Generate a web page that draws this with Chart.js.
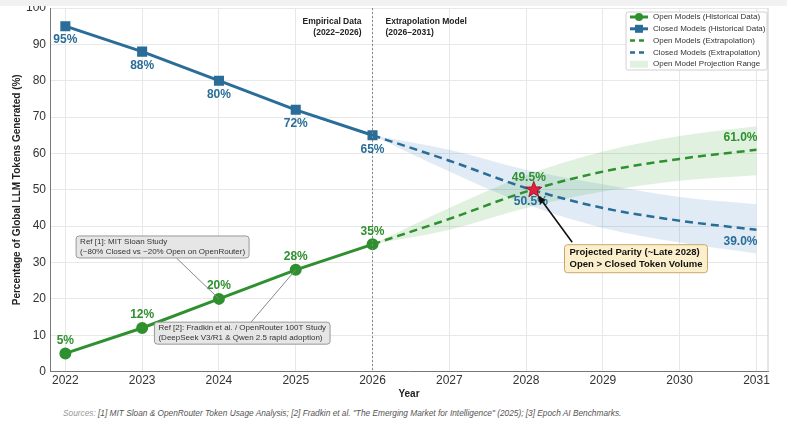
<!DOCTYPE html>
<html>
<head>
<meta charset="utf-8">
<script src="https://cdn.jsdelivr.net/npm/chart.js@4.4.1/dist/chart.umd.min.js"></script>
<style>
  html, body { margin: 0; padding: 0; background: #fff; }
  body { width: 787px; height: 430px; position: relative; overflow: hidden; font-family: "Liberation Sans", Arial, sans-serif; }
  #wrap { position: absolute; left: 0; top: -8px; width: 787px; height: 412px; }
  #topband { position: absolute; left: 0; top: 0; width: 787px; height: 6px; background: #f2f2f2; }
  #sources { position: absolute; left: 63px; top: 408px; font-size: 8.3px; font-style: italic; color: #555; white-space: nowrap; }
  #sources span { color: #999; }
</style>
</head>
<body>
<div id="wrap"><canvas id="chart"></canvas></div>
<div id="topband"></div>
<div id="sources"><span>Sources:</span> [1] MIT Sloan &amp; OpenRouter Token Usage Analysis; [2] Fradkin et al. "The Emerging Market for Intelligence" (2025); [3] Epoch AI Benchmarks.</div>
<script>
const years = [2022, 2023, 2024, 2025, 2026, 2027, 2028, 2029, 2030, 2031];
const histYears = [2022, 2023, 2024, 2025, 2026];
const openHist = [5, 12, 20, 28, 35];
const closedHist = [95, 88, 80, 72, 65];
const extYears = [2026, 2027, 2028, 2029, 2030, 2031];
const openExt = [35, 42, 49.5, 55, 58.5, 61];
const closedExt = [65, 58, 50.5, 45, 41.5, 39];
const openUpper = [35, 45, 54, 60.5, 64.8, 67.5];
const openLower = [35, 39, 45, 49.5, 52.5, 54];
const closedUpper = [65, 61, 55.5, 51.5, 48, 46];
const closedLower = [65, 55, 46, 39.5, 35.5, 32.5];
const parity = { x: 2028.1, y: 50 };
const yTicks = [0, 10, 20, 30, 40, 50, 60, 70, 80, 90, 100];

const GREEN = '#2e902e';
const BLUE = '#2a6d98';
const FONT = '"Liberation Sans", Arial, sans-serif';

function pts(xs, ys) {
    return xs.map((x, i) => ({ x: x, y: ys[i] }));
}

const datasets = [
    {
        label: 'Open Model Projection Range',
        data: pts(extYears, openUpper),
        borderWidth: 0, pointRadius: 0,
        backgroundColor: 'rgba(60,170,60,0.16)',
        fill: '+1', cubicInterpolationMode: 'monotone', order: 5
    },
    {
        label: '_openLower',
        data: pts(extYears, openLower),
        borderWidth: 0, pointRadius: 0,
        backgroundColor: 'rgba(60,170,60,0.16)',
        fill: false, cubicInterpolationMode: 'monotone', order: 5
    },
    {
        label: '_closedUpper',
        data: pts(extYears, closedUpper),
        borderWidth: 0, pointRadius: 0,
        backgroundColor: 'rgba(70,130,190,0.16)',
        fill: '+1', cubicInterpolationMode: 'monotone', order: 5
    },
    {
        label: '_closedLower',
        data: pts(extYears, closedLower),
        borderWidth: 0, pointRadius: 0,
        backgroundColor: 'rgba(70,130,190,0.16)',
        fill: false, cubicInterpolationMode: 'monotone', order: 5
    },
    {
        label: 'Open Models (Extrapolation)',
        data: pts(extYears, openExt),
        borderColor: GREEN, borderWidth: 2.5, borderDash: [8, 5],
        pointRadius: 0, fill: false, cubicInterpolationMode: 'monotone', order: 3
    },
    {
        label: 'Closed Models (Extrapolation)',
        data: pts(extYears, closedExt),
        borderColor: BLUE, borderWidth: 2.5, borderDash: [8, 5],
        pointRadius: 0, fill: false, cubicInterpolationMode: 'monotone', order: 3
    },
    {
        label: 'Open Models (Historical Data)',
        data: pts(histYears, openHist),
        borderColor: GREEN, backgroundColor: GREEN, borderWidth: 3,
        pointStyle: 'circle', pointRadius: 4.5, fill: false, order: 1
    },
    {
        label: 'Closed Models (Historical Data)',
        data: pts(histYears, closedHist),
        borderColor: BLUE, backgroundColor: BLUE, borderWidth: 3,
        pointStyle: 'rect', pointRadius: 5, fill: false, order: 1
    }
];

// text, boxes, star, divider line
const overlay = {
    id: 'overlay',
    afterDatasetsDraw(chart) {
        const ctx = chart.ctx;
        const xs = chart.scales.x, ys = chart.scales.y;
        const area = chart.chartArea;
        const px = v => xs.getPixelForValue(v);
        const py = v => ys.getPixelForValue(v);
        ctx.save();

        // divider at 2026
        ctx.strokeStyle = '#888';
        ctx.lineWidth = 1;
        ctx.setLineDash([2, 2]);
        ctx.beginPath();
        ctx.moveTo(px(2026), area.top);
        ctx.lineTo(px(2026), area.bottom);
        ctx.stroke();
        ctx.setLineDash([]);

        ctx.fillStyle = '#222';
        ctx.font = 'bold 8.5px ' + FONT;
        ctx.textBaseline = 'middle';
        ctx.textAlign = 'right';
        ctx.fillText('Empirical Data', px(2026) - 11, py(96.2));
        ctx.fillText('(2022\u20132026)', px(2026) - 11, py(93.1));
        ctx.textAlign = 'left';
        ctx.fillText('Extrapolation Model', px(2026) + 13, py(96.2));
        ctx.fillText('(2026\u20132031)', px(2026) + 13, py(93.1));

        // value labels
        ctx.font = 'bold 12px ' + FONT;
        ctx.textAlign = 'center';
        ctx.fillStyle = GREEN;
        histYears.forEach((x, i) => ctx.fillText(openHist[i] + '%', px(x), py(openHist[i]) - 13));
        ctx.fillStyle = BLUE;
        histYears.forEach((x, i) => ctx.fillText(closedHist[i] + '%', px(x), py(closedHist[i]) + 14));
        const last = extYears.length - 1;
        ctx.fillStyle = GREEN;
        ctx.fillText(openExt[last].toFixed(1) + '%', px(extYears[last]) - 16, py(openExt[last]) - 12);
        ctx.fillText(openExt[2].toFixed(1) + '%', px(parity.x) - 5, py(parity.y) - 12);
        ctx.fillStyle = BLUE;
        ctx.fillText(closedExt[last].toFixed(1) + '%', px(extYears[last]) - 16, py(closedExt[last]) + 12);
        ctx.fillText(closedExt[2].toFixed(1) + '%', px(parity.x) - 3, py(parity.y) + 12);

        // reference boxes
        function refBox(x, y, lines, target, from) {
            const bx = px(x), by = py(y);
            ctx.font = '8px ' + FONT;
            const w = Math.max(...lines.map(l => ctx.measureText(l).width)) + 8;
            const h = lines.length * 10 + 2;
            ctx.strokeStyle = '#888';
            ctx.lineWidth = 1;
            ctx.beginPath();
            ctx.moveTo(bx + from[0] * w, by + from[1] * h);
            ctx.lineTo(px(target[0]), py(target[1]));
            ctx.stroke();
            ctx.fillStyle = '#e6e6e6';
            ctx.strokeStyle = '#999';
            ctx.beginPath();
            ctx.roundRect(bx, by, w, h, 3);
            ctx.fill();
            ctx.stroke();
            ctx.fillStyle = '#333';
            ctx.textAlign = 'left';
            lines.forEach((l, i) => ctx.fillText(l, bx + 4, by + 6 + i * 10));
        }
        refBox(2022.14, 37.3, ['Ref [1]: MIT Sloan Study', '(~80% Closed vs ~20% Open on OpenRouter)'], [2024, 20], [0.58, 1]);
        refBox(2023.16, 13.6, ['Ref [2]: Fradkin et al. / OpenRouter 100T Study', '(DeepSeek V3/R1 & Qwen 2.5 rapid adoption)'], [2025, 28], [0.55, 0]);

        // parity arrow
        const sx = px(parity.x), sy = py(parity.y);
        const ax = px(2028.6), ay = py(35.6);
        ctx.strokeStyle = '#111';
        ctx.fillStyle = '#111';
        ctx.lineWidth = 1.6;
        const ang = Math.atan2(sy - ay, sx - ax);
        const tipX = sx - Math.cos(ang) * 7, tipY = sy - Math.sin(ang) * 7;
        ctx.beginPath();
        ctx.moveTo(ax, ay);
        ctx.lineTo(tipX - Math.cos(ang) * 6, tipY - Math.sin(ang) * 6);
        ctx.stroke();
        ctx.beginPath();
        ctx.moveTo(tipX, tipY);
        ctx.lineTo(tipX - Math.cos(ang - 0.4) * 9, tipY - Math.sin(ang - 0.4) * 9);
        ctx.lineTo(tipX - Math.cos(ang + 0.4) * 9, tipY - Math.sin(ang + 0.4) * 9);
        ctx.closePath();
        ctx.fill();

        // parity box
        const pbx = px(2028.5), pby = py(34.9);
        ctx.font = 'bold 9.5px ' + FONT;
        const pl = ['Projected Parity (~Late 2028)', 'Open > Closed Token Volume'];
        const pw = Math.max(...pl.map(l => ctx.measureText(l).width)) + 10;
        ctx.fillStyle = '#fcf0cc';
        ctx.strokeStyle = '#c9a66b';
        ctx.lineWidth = 1;
        ctx.beginPath();
        ctx.roundRect(pbx, pby, pw, 28, 3);
        ctx.fill();
        ctx.stroke();
        ctx.fillStyle = '#111';
        ctx.textAlign = 'left';
        pl.forEach((l, i) => ctx.fillText(l, pbx + 5, pby + 8 + i * 12));

        // star
        ctx.beginPath();
        for (let i = 0; i < 10; i++) {
            const r = i % 2 === 0 ? 8.5 : 3.6;
            const a = -Math.PI / 2 + i * Math.PI / 5;
            const x = sx + Math.cos(a) * r, y = sy + Math.sin(a) * r;
            if (i === 0) ctx.moveTo(x, y); else ctx.lineTo(x, y);
        }
        ctx.closePath();
        ctx.fillStyle = '#e3203c';
        ctx.fill();
        ctx.strokeStyle = '#8a0f1e';
        ctx.lineWidth = 0.8;
        ctx.stroke();

        // legend
        const names = ['Open Models (Historical Data)', 'Closed Models (Historical Data)',
            'Open Models (Extrapolation)', 'Closed Models (Extrapolation)', 'Open Model Projection Range'];
        const lx = area.right - 142, ly = area.top + 4;
        ctx.fillStyle = 'rgba(255,255,255,0.92)';
        ctx.strokeStyle = '#d0d0d0';
        ctx.lineWidth = 1;
        ctx.beginPath();
        ctx.roundRect(lx, ly, 141, 58, 2);
        ctx.fill();
        ctx.stroke();
        ctx.font = '8px ' + FONT;
        names.forEach((n, i) => {
            const ds = chart.data.datasets.find(d => d.label === n);
            const yy = ly + 5 + i * 11.8;
            const x0 = lx + 4, x1 = lx + 22;
            if (ds.fill) {
                ctx.fillStyle = ds.backgroundColor;
                ctx.fillRect(x0, yy - 3.5, x1 - x0, 7);
            } else {
                ctx.strokeStyle = ds.borderColor;
                ctx.lineWidth = ds.borderWidth;
                ctx.setLineDash(ds.borderDash ? [5, 4] : []);
                ctx.beginPath();
                ctx.moveTo(x0, yy);
                ctx.lineTo(x1, yy);
                ctx.stroke();
                ctx.setLineDash([]);
                ctx.fillStyle = ds.borderColor;
                if (ds.pointStyle === 'circle') {
                    ctx.beginPath();
                    ctx.arc((x0 + x1) / 2, yy, 4, 0, Math.PI * 2);
                    ctx.fill();
                } else if (ds.pointStyle === 'rect') {
                    ctx.fillRect((x0 + x1) / 2 - 4, yy - 4, 8, 8);
                }
            }
            ctx.fillStyle = '#333';
            ctx.textAlign = 'left';
            ctx.fillText(n, lx + 27, yy);
        });

        // right frame
        ctx.strokeStyle = '#ccc';
        ctx.lineWidth = 1;
        ctx.beginPath();
        ctx.moveTo(area.right, area.top);
        ctx.lineTo(area.right, area.bottom);
        ctx.stroke();

        ctx.restore();
    }
};

new Chart(document.getElementById('chart'), {
    type: 'line',
    data: { datasets: datasets },
    plugins: [overlay],
    options: {
        animation: false,
        responsive: true,
        maintainAspectRatio: false,
        events: [],
        layout: { padding: { top: 16, left: 9, right: 19, bottom: 4 } },
        plugins: {
            legend: { display: false },
            tooltip: { enabled: false }
        },
        scales: {
            x: {
                type: 'linear',
                min: 2021.8,
                max: 2031.15,
                afterBuildTicks: scale => { scale.ticks = years.map(v => ({ value: v })); },
                ticks: {
                    color: '#333',
                    font: { family: FONT, size: 12 },
                    padding: 2,
                    maxRotation: 0,
                    callback: v => String(v)
                },
                grid: { color: '#e8e8e8', drawTicks: false },
                border: { color: '#777' },
                title: { display: true, text: 'Year', color: '#222', font: { family: FONT, size: 10, weight: 'bold' }, padding: { top: -2, bottom: 0 } }
            },
            y: {
                min: 0,
                max: 100,
                afterBuildTicks: scale => { scale.ticks = yTicks.map(v => ({ value: v })); },
                afterFit: scale => { scale.width = 41; },
                ticks: {
                    color: '#333',
                    font: { family: FONT, size: 12 },
                    padding: 4
                },
                grid: { color: '#e8e8e8', drawTicks: false },
                border: { color: '#777' },
                title: { display: true, text: 'Percentage of Global LLM Tokens Generated (%)', color: '#222', font: { family: FONT, size: 10, weight: 'bold' }, padding: 2 }
            }
        }
    }
});
</script>
</body>
</html>
